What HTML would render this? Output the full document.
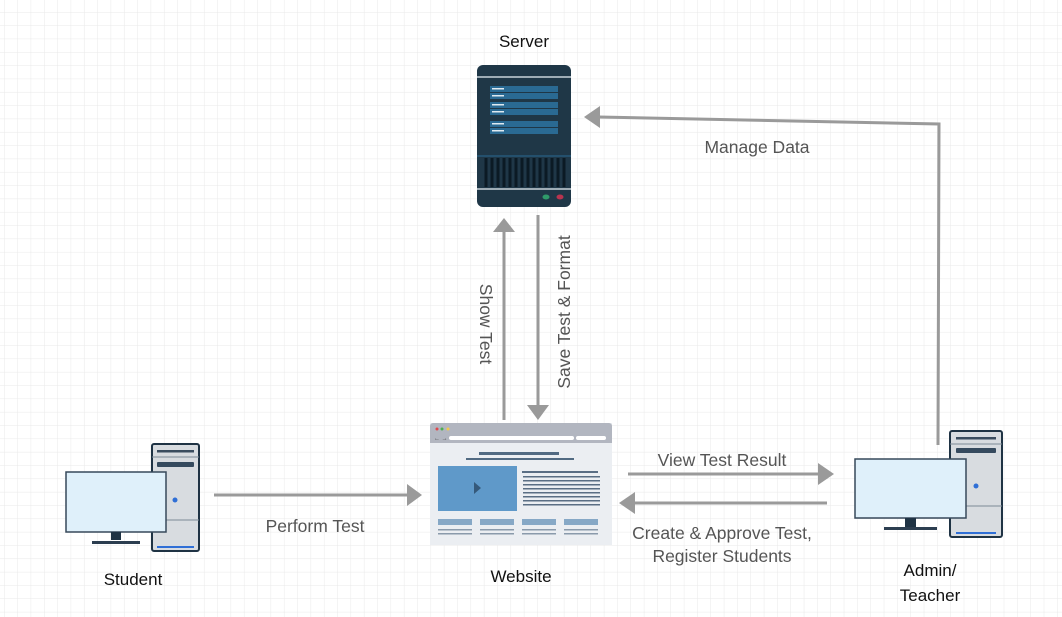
<!DOCTYPE html>
<html><head><meta charset="utf-8"><style>
html,body{margin:0;padding:0;background:#fff;}
svg{display:block;font-family:"Liberation Sans",sans-serif;}
</style></head><body>
<svg width="1062" height="617" viewBox="0 0 1062 617" xmlns="http://www.w3.org/2000/svg">
<defs>
<pattern id="g" x="4" y="12" width="13.33" height="13.33" patternUnits="userSpaceOnUse">
<path d="M0 0H13.33M0 0V13.33" stroke="#e9e9e9" stroke-width="1" fill="none"/>
</pattern>
</defs>
<rect width="1062" height="617" fill="#fff"/>
<rect width="1062" height="617" fill="url(#g)"/>

<!-- Server -->
<rect x="477" y="65" width="94" height="142" rx="6" fill="#1f3747"/>
<line x1="477" y1="77" x2="571" y2="77" stroke="#c8d3da" stroke-width="1.5"/>
<g fill="#2a6a93">
<rect x="490" y="86" width="68" height="6"/><rect x="490" y="93" width="68" height="6"/>
<rect x="490" y="102" width="68" height="6"/><rect x="490" y="109" width="68" height="6"/>
<rect x="490" y="121" width="68" height="6"/><rect x="490" y="128" width="68" height="6"/>
</g>
<g fill="#dfeaf1">
<rect x="492" y="88" width="12" height="1.5"/><rect x="492" y="95" width="12" height="1.5"/>
<rect x="492" y="104" width="12" height="1.5"/><rect x="492" y="111" width="12" height="1.5"/>
<rect x="492" y="123" width="12" height="1.5"/><rect x="492" y="130" width="12" height="1.5"/>
</g>
<line x1="477" y1="156" x2="571" y2="156" stroke="#2a6a93" stroke-width="1"/>
<g stroke="#0b1a24" stroke-width="3">
<line x1="486" y1="158" x2="486" y2="187"/><line x1="492" y1="158" x2="492" y2="187"/>
<line x1="498" y1="158" x2="498" y2="187"/><line x1="504" y1="158" x2="504" y2="187"/>
<line x1="510" y1="158" x2="510" y2="187"/><line x1="516" y1="158" x2="516" y2="187"/>
<line x1="522" y1="158" x2="522" y2="187"/><line x1="528" y1="158" x2="528" y2="187"/>
<line x1="534" y1="158" x2="534" y2="187"/><line x1="540" y1="158" x2="540" y2="187"/>
<line x1="546" y1="158" x2="546" y2="187"/><line x1="552" y1="158" x2="552" y2="187"/>
<line x1="558" y1="158" x2="558" y2="187"/><line x1="564" y1="158" x2="564" y2="187"/>
</g>
<line x1="477" y1="189" x2="571" y2="189" stroke="#c8d3da" stroke-width="1.5"/>
<ellipse cx="546" cy="197" rx="3.5" ry="2.5" fill="#2f9a6a"/>
<ellipse cx="560" cy="197" rx="3.5" ry="2.5" fill="#b8344f"/>
<text x="524" y="47" font-size="17" text-anchor="middle" fill="#111">Server</text>

<!-- Website -->
<rect x="430" y="423" width="182" height="122" fill="#ebeef2"/>
<path d="M430 443V426a3 3 0 0 1 3-3h176a3 3 0 0 1 3 3v17z" fill="#b2b6c0"/>
<circle cx="437" cy="429" r="1.5" fill="#e0474c"/><circle cx="442" cy="429" r="1.5" fill="#4caf50"/><circle cx="448" cy="429" r="1.5" fill="#f2c94c"/>
<rect x="449" y="436" width="125" height="4" rx="2" fill="#fff"/>
<rect x="576" y="436" width="30" height="4" rx="2" fill="#fff"/>
<text x="434" y="440" font-size="6" fill="#444">← →</text>
<rect x="479" y="452" width="80" height="3" fill="#516a82"/>
<rect x="466" y="458" width="108" height="2" fill="#516a82"/>
<rect x="438" y="466" width="79" height="45" fill="#5f99c9"/>
<path d="M474 482l7 6-7 6z" fill="#35597a"/>
<g fill="#5a6e84">
<rect x="522" y="471" width="76" height="2"/><rect x="523" y="476" width="77" height="1.5"/>
<rect x="523" y="480" width="77" height="1.5"/><rect x="523" y="484" width="77" height="1.5"/>
<rect x="523" y="488" width="77" height="1.5"/><rect x="523" y="492" width="77" height="1.5"/>
<rect x="523" y="496" width="77" height="1.5"/><rect x="523" y="500" width="77" height="1.5"/>
<rect x="523" y="504" width="77" height="1.5"/>
</g>
<g fill="#86a8c6">
<rect x="438" y="519" width="34" height="6"/><rect x="480" y="519" width="34" height="6"/>
<rect x="522" y="519" width="34" height="6"/><rect x="564" y="519" width="34" height="6"/>
</g>
<g fill="#8a9aab">
<rect x="438" y="529" width="34" height="1.5"/><rect x="438" y="533" width="34" height="1.5"/>
<rect x="480" y="529" width="34" height="1.5"/><rect x="480" y="533" width="34" height="1.5"/>
<rect x="522" y="529" width="34" height="1.5"/><rect x="522" y="533" width="34" height="1.5"/>
<rect x="564" y="529" width="34" height="1.5"/><rect x="564" y="533" width="34" height="1.5"/>
</g>
<text x="521" y="582" font-size="17" text-anchor="middle" fill="#111">Website</text>

<!-- Student computer -->
<rect x="152" y="444" width="47" height="107" rx="2" fill="#d8dce0" stroke="#1f3344" stroke-width="2"/>
<rect x="157" y="450" width="37" height="2.5" fill="#3a4c5e"/>
<line x1="152" y1="457" x2="199" y2="457" stroke="#7d8a96" stroke-width="1"/>
<rect x="157" y="462" width="37" height="5" rx="1" fill="#354a5e"/>
<line x1="152" y1="520" x2="199" y2="520" stroke="#7d8a96" stroke-width="1"/>
<rect x="157" y="546" width="37" height="2" fill="#2f6fd6"/>
<circle cx="175" cy="500" r="2.5" fill="#2f6fd6"/>
<rect x="66" y="472" width="100" height="60" fill="#dff0fa" stroke="#37495a" stroke-width="1.5"/>
<rect x="111" y="532" width="10" height="8" fill="#1f3344"/>
<rect x="92" y="541" width="48" height="3" fill="#2c3e50"/>
<text x="133" y="585" font-size="17" text-anchor="middle" fill="#111">Student</text>

<!-- Admin computer -->
<rect x="950" y="431" width="52" height="106" rx="2" fill="#d8dce0" stroke="#1f3344" stroke-width="2"/>
<rect x="956" y="437" width="40" height="2.5" fill="#3a4c5e"/>
<line x1="950" y1="444" x2="1002" y2="444" stroke="#7d8a96" stroke-width="1"/>
<rect x="956" y="448" width="40" height="5" rx="1" fill="#354a5e"/>
<line x1="950" y1="506" x2="1002" y2="506" stroke="#7d8a96" stroke-width="1"/>
<rect x="956" y="532" width="40" height="2" fill="#2f6fd6"/>
<circle cx="976" cy="486" r="2.5" fill="#2f6fd6"/>
<rect x="855" y="459" width="111" height="59" fill="#dff0fa" stroke="#37495a" stroke-width="1.5"/>
<rect x="905" y="518" width="11" height="9" fill="#1f3344"/>
<rect x="884" y="527" width="53" height="3" fill="#2c3e50"/>
<text x="930" y="576" font-size="17" text-anchor="middle" fill="#111">Admin/</text>
<text x="930" y="601" font-size="17" text-anchor="middle" fill="#111">Teacher</text>

<!-- Arrows -->
<g stroke="#9a9a9a" stroke-width="3" fill="none">
<line x1="214" y1="495" x2="408" y2="495"/>
<line x1="504" y1="420" x2="504" y2="231"/>
<line x1="538" y1="215" x2="538" y2="406"/>
<line x1="628" y1="474" x2="819" y2="474"/>
<line x1="827" y1="503" x2="634" y2="503"/>
<polyline points="938,445 939,124 599,117"/>
</g>
<g fill="#9a9a9a">
<path d="M407 484L422 495L407 506z"/>
<path d="M493 232L504 218L515 232z"/>
<path d="M527 405L538 420L549 405z"/>
<path d="M818 463L834 474L818 485z"/>
<path d="M635 492L619 503L635 514z"/>
<path d="M600 106L584 117L600 128z"/>
</g>

<!-- Arrow labels -->
<g font-size="17.5" fill="#555">
<text x="315" y="532" text-anchor="middle">Perform Test</text>
<text x="722" y="466" text-anchor="middle">View Test Result</text>
<text x="722" y="539" text-anchor="middle">Create &amp; Approve Test,</text>
<text x="722" y="562" text-anchor="middle">Register Students</text>
<text x="757" y="153" text-anchor="middle">Manage Data</text>
<text transform="translate(480,324) rotate(90)" text-anchor="middle">Show Test</text>
<text transform="translate(570,312) rotate(-90)" text-anchor="middle">Save Test &amp; Format</text>
</g>
</svg>
</body></html>
